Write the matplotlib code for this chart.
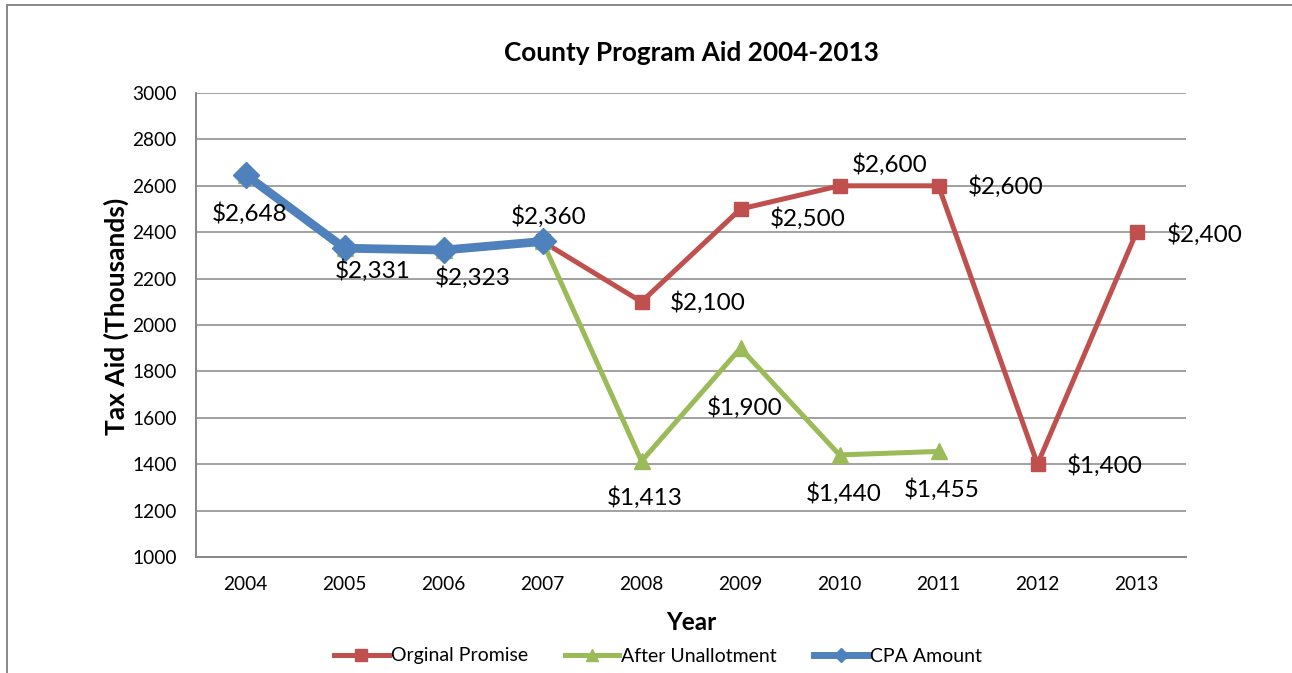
import numpy as np
import matplotlib
matplotlib.use("Agg")
import matplotlib.pyplot as plt
from matplotlib.lines import Line2D

plt.rcParams['font.family'] = ['Lato', 'DejaVu Sans']

years = ["2004", "2005", "2006", "2007", "2008", "2009", "2010", "2011", "2012", "2013"]
original_promise = [np.nan, np.nan, np.nan, 2360, 2100, 2500, 2600, 2600, 1400, 2400]
after_unallotment = [2648, 2331, 2323, 2360, 1413, 1900, 1440, 1455, np.nan, np.nan]
cpa_amount = [2648, 2331, 2323, 2360, np.nan, np.nan, np.nan, np.nan, np.nan, np.nan]

RED = "#C0504D"
GREEN = "#9BBB59"
BLUE = "#4F81BD"

W, H = 1292, 673
fig = plt.figure(figsize=(W / 100, H / 100), dpi=100)
fig.patch.set_facecolor("white")

# plot area in pixel terms
left, right, top, bottom = 196, 1186, 93, 557
ax = fig.add_axes([left / W, 1 - bottom / H, (right - left) / W, (bottom - top) / H])

x = np.arange(len(years))
ax.plot(x, original_promise, color=RED, lw=3.6, marker="s", ms=10, zorder=3)
ax.plot(x, after_unallotment, color=GREEN, lw=3.6, marker="^", ms=11, zorder=4)
ax.plot(x, cpa_amount, color=BLUE, lw=6.3, marker="D", ms=13, zorder=5)

ax.set_xlim(-0.5, len(years) - 0.5)
ax.set_ylim(1000, 3000)
ax.set_yticks(np.arange(1000, 3001, 200))
ax.set_xticks(x)
ax.set_xticklabels(years)
ax.grid(axis="y", color="#878787", lw=1.1)
ax.set_axisbelow(True)
for s in ["top", "right"]:
    ax.spines[s].set_visible(False)
for s in ["left", "bottom"]:
    ax.spines[s].set_color("#878787")
    ax.spines[s].set_linewidth(1.4)
ax.tick_params(axis="both", length=0, labelsize=13.8, colors="black")
ax.tick_params(axis="x", pad=14)
ax.tick_params(axis="y", pad=14)

ax.set_ylabel("Tax Aid (Thousands)", fontsize=19, fontweight="bold")
ax.yaxis.set_label_coords((129 - left) / (right - left), (bottom - 316) / (bottom - top))
ax.set_xlabel("Year", fontsize=17.5, fontweight="bold", labelpad=13)
ax.set_title("County Program Aid 2004-2013", fontsize=18.8, fontweight="bold", pad=23)


def money(v):
    return "${:,.0f}".format(v)


def label(i, v, dx, dy, ha="center"):
    ax.annotate(money(v), (i, v), xytext=(dx * 0.72, dy * 0.72), textcoords="offset points",
                ha=ha, va="center", fontsize=17.5, zorder=6)


# CPA amount labels
label(0, cpa_amount[0], 4, -39)
label(1, cpa_amount[1], 28, -22)
label(2, cpa_amount[2], 29, -27)
label(3, cpa_amount[3], 6, 25)
# Original promise labels
label(4, original_promise[4], 28, -1, ha="left")
label(5, original_promise[5], 29, -10, ha="left")
label(6, original_promise[6], 12, 21, ha="left")
label(7, original_promise[7], 29, -1, ha="left")
label(8, original_promise[8], 29, -1, ha="left")
label(9, original_promise[9], 30, -2, ha="left")
# After unallotment labels
label(4, after_unallotment[4], 3, -36)
label(5, after_unallotment[5], 4, -59)
label(6, after_unallotment[6], 4, -39)
label(7, after_unallotment[7], 3, -38)

handles = [
    Line2D([], [], color=RED, lw=3.6, marker="s", ms=8),
    Line2D([], [], color=GREEN, lw=3.6, marker="^", ms=8),
    Line2D([], [], color=BLUE, lw=5, marker="D", ms=7),
]
fig.legend(handles, ["Orginal Promise", "After Unallotment", "CPA Amount"],
           loc="center", bbox_to_anchor=(658 / W, 1 - 656 / H), ncol=3, frameon=False,
           fontsize=14, handlelength=2.8, handletextpad=0.1, columnspacing=1.9)

# chart frame
fig.add_artist(Line2D([7 / W, 1], [1 - 5 / H, 1 - 5 / H], transform=fig.transFigure,
                      color="#888888", lw=1.4))
fig.add_artist(Line2D([7 / W, 7 / W], [1 - 5 / H, 0], transform=fig.transFigure,
                      color="#888888", lw=1.4))

fig.savefig("out.png", dpi=100)
